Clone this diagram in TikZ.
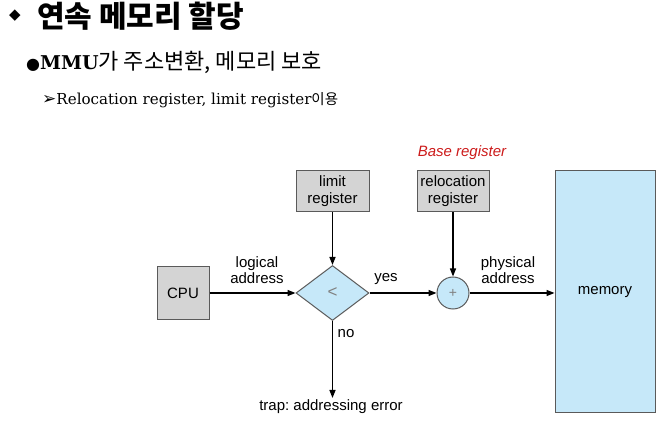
\documentclass[tikz,border=0pt]{standalone}
\usepackage{fontspec}
\setmainfont{Liberation Sans}
\newfontfamily\korfont{Noto Sans CJK KR}
\newfontfamily\dvsans{DejaVu Sans}
\newfontfamily\dvserif{DejaVu Serif}
\usetikzlibrary{shapes.geometric,arrows.meta}
\definecolor{boxgray}{HTML}{D4D4D4}
\definecolor{boxedge}{HTML}{5A5A5A}
\definecolor{lblue}{HTML}{C6E8F9}
\definecolor{basered}{HTML}{CC1A1A}
\tikzset{
  reg/.style={draw=boxedge, fill=boxgray, line width=1pt, inner sep=0pt, align=center, font=\fontsize{15}{17}\selectfont},
  blue/.style={draw=boxedge, fill=lblue, line width=1pt, inner sep=0pt},
  lbl/.style={align=center, font=\fontsize{15}{16}\selectfont, inner sep=0pt},
  conn/.style={line width=1.4pt, -{Triangle[length=8pt,width=6pt]}}
}
\begin{document}
\frenchspacing
\begin{tikzpicture}[x=1pt,y=-1pt]
\useasboundingbox (0,0) rectangle (665,422);
% header
\node[anchor=center, inner sep=0pt] (dmd) at (15,16) {\dvsans\fontsize{15}{15}\selectfont ◆};
\node[anchor=west, inner sep=0pt] (title) at (37,16) {\korfont\bfseries\fontsize{30}{32}\selectfont 연속 메모리 할당};
\node[anchor=west, inner sep=0pt] (line2) at (26,62) {{\dvsans\fontsize{16}{18}\selectfont ●}{\dvserif\bfseries\fontsize{19}{22}\selectfont MMU}{\korfont\fontsize{22}{24}\selectfont 가 주소변환, 메모리 보호}};
\node[anchor=west, inner sep=0pt] (line3) at (42,100) {{\dvsans\fontsize{17}{18}\selectfont ➢}{\dvserif\fontsize{15.1}{18}\selectfont Relocation register, limit register}{\korfont\fontsize{14.5}{16}\selectfont 이용}};
% diagram
\node[reg, minimum width=52, minimum height=53] (cpu) at (183,293) {CPU};
\node[reg, minimum width=73, minimum height=41] (lim) at (332.5,191.5) {limit\\register};
\node[reg, minimum width=72, minimum height=41] (rel) at (453,191.5) {relocation\\register};
\node[blue, shape=diamond, minimum width=73, minimum height=55, aspect=1.33] (cmp) at (332.5,293) {};
\node[font=\fontsize{17}{17}\selectfont, text=gray] (lt) at (cmp.center) {<};
\node[blue, shape=circle, minimum size=32] (plus) at (453,293) {};
\node[font=\fontsize{14}{14}\selectfont, text=gray] (pl) at (plus.center) {+};
\node[blue, minimum width=100, minimum height=242, font=\fontsize{15}{17}\selectfont] (mem) at (605,292) {memory};
\coordinate (trapend) at (332.5,398);
\draw[conn] (cpu.east) -- (cmp.west);
\draw[conn] (lim.south) -- (cmp.north);
\draw[conn] (cmp.east) -- (plus.west);
\draw[conn] (rel.south) -- (plus.north);
\draw[conn] (plus.east) -- (plus.east -| mem.west);
\draw[conn] (cmp.south) -- (trapend);
\node[lbl] (la) at (257,270) {logical\\address};
\node[lbl] (yes) at (386,279) {yes};
\node[lbl] (pa) at (508,270) {physical\\address};
\node[lbl] (no) at (346,334) {no};
\node[lbl] (trap) at (331,407) {trap: addressing error};
\node[lbl, text=basered, font=\itshape\fontsize{15}{17}\selectfont] (base) at (462,153) {Base register};
\end{tikzpicture}
\end{document}
